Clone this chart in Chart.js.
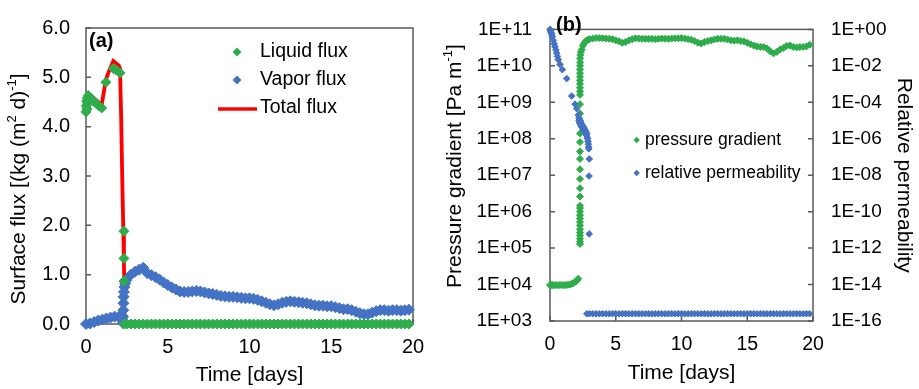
<!DOCTYPE html>
<html>
<head>
<meta charset="utf-8">
<script src="https://cdn.jsdelivr.net/npm/chart.js@4.4.0/dist/chart.umd.min.js"></script>
<style>
  html, body { margin: 0; padding: 0; background: #fff; }
  #wrap { position: relative; width: 919px; height: 389px; }
  .panel { position: absolute; top: 0; height: 389px; }
  #panelA { left: 0; width: 440px; }
  #panelB { left: 440px; width: 479px; }
</style>
</head>
<body>
<div id="wrap">
  <div class="panel" id="panelA"><canvas id="fluxChart"></canvas></div>
  <div class="panel" id="panelB"><canvas id="gradChart"></canvas></div>
</div>
<script>
// ---------- panel (a): surface flux ----------
const dayTicks = [0, 5, 10, 15, 20];
const fluxTicks = [0, 1, 2, 3, 4, 5, 6];

// common output times after breakthrough (days)
const bandDaysA = [
  2.5, 2.75, 3, 3.25, 3.5, 3.75, 4, 4.25, 4.5, 4.75,
  5, 5.25, 5.5, 5.75, 6, 6.25, 6.5, 6.75, 7, 7.25,
  7.5, 7.75, 8, 8.25, 8.5, 8.75, 9, 9.25, 9.5, 9.75,
  10, 10.25, 10.5, 10.75, 11, 11.25, 11.5, 11.75, 12, 12.25,
  12.5, 12.75, 13, 13.25, 13.5, 13.75, 14, 14.25, 14.5, 14.75,
  15, 15.25, 15.5, 15.75, 16, 16.25, 16.5, 16.75, 17, 17.25,
  17.5, 17.75, 18, 18.25, 18.5, 18.75, 19, 19.25, 19.5, 19.75
];

const liquidEarlyDays = [0, 0.02, 0.04, 0.06, 0.08, 0.1, 0.14, 0.2, 0.3, 0.43,
  0.55, 0.65, 0.8, 0.96, 1.22, 1.67, 1.85, 2.08, 2.32, 2.32, 2.32, 2.35];
const liquidEarly = [4.30, 4.42, 4.52, 4.36, 4.58, 4.48, 4.63, 4.58, 4.55, 4.52,
  4.50, 4.46, 4.42, 4.38, 4.90, 5.18, 5.15, 5.09, 1.88, 1.33, 0.87, 0];
const liquidLate = [
  0, 0, 0, 0, 0, 0, 0, 0, 0, 0,
  0, 0, 0, 0, 0, 0, 0, 0, 0, 0,
  0, 0, 0, 0, 0, 0, 0, 0, 0, 0,
  0, 0, 0, 0, 0, 0, 0, 0, 0, 0,
  0, 0, 0, 0, 0, 0, 0, 0, 0, 0,
  0, 0, 0, 0, 0, 0, 0, 0, 0, 0,
  0, 0, 0, 0, 0, 0, 0, 0, 0, 0
];

const vaporEarlyDays = [0, 0.25, 0.5, 0.75, 1, 1.25, 1.5, 1.75, 2, 2.2,
  2.26, 2.27, 2.28, 2.29, 2.3, 2.32, 2.35, 2.4, 2.45];
const vaporEarly = [0.00, 0.01, 0.04, 0.07, 0.09, 0.11, 0.13, 0.15, 0.14, 0.12,
  0.02, 0.15, 0.28, 0.42, 0.55, 0.65, 0.75, 0.82, 0.88];
const vaporLate = [
  0.92, 1.00, 1.06, 1.10, 1.14, 1.03, 0.99, 0.95, 0.90, 0.84,
  0.79, 0.74, 0.70, 0.66, 0.65, 0.65, 0.66, 0.67, 0.66, 0.64,
  0.62, 0.61, 0.59, 0.57, 0.56, 0.55, 0.55, 0.54, 0.53, 0.52,
  0.52, 0.51, 0.49, 0.46, 0.43, 0.40, 0.38, 0.40, 0.43, 0.45,
  0.46, 0.45, 0.44, 0.43, 0.42, 0.40, 0.38, 0.37, 0.37, 0.36,
  0.36, 0.34, 0.32, 0.30, 0.30, 0.28, 0.25, 0.22, 0.20, 0.20,
  0.23, 0.26, 0.28, 0.28, 0.27, 0.28, 0.28, 0.27, 0.28, 0.29
];

const totalDays = [0, 0.14, 0.4, 0.65, 0.96, 1.22, 1.45, 1.67, 1.85, 2.0,
  2.08, 2.15, 2.22, 2.28, 2.32, 2.35, 2.5, 3, 3.4, 3.7,
  4, 5, 6, 7, 8, 9, 10, 11, 11.5, 12.5,
  13.5, 14.5, 15.5, 16.5, 17.1, 18, 19, 20];
const totalFlux = [4.35, 4.66, 4.60, 4.53, 4.44, 4.96, 5.16, 5.33, 5.28, 5.24,
  5.18, 4.2, 2.9, 1.95, 1.2, 0.75, 0.92, 1.06, 1.15, 1.03,
  0.99, 0.79, 0.65, 0.66, 0.59, 0.55, 0.52, 0.43, 0.38, 0.46,
  0.42, 0.37, 0.32, 0.25, 0.20, 0.28, 0.28, 0.28];

// ---------- panel (b): pressure gradient / relative permeability ----------
const gradTicks = [1e3, 1e4, 1e5, 1e6, 1e7, 1e8, 1e9, 1e10, 1e11];
const permTicks = [1e-16, 1e-14, 1e-12, 1e-10, 1e-8, 1e-6, 1e-4, 1e-2, 1];

const bandDaysB = [
  3, 3.25, 3.5, 3.75, 4, 4.25, 4.5, 4.75, 5, 5.25,
  5.5, 5.75, 6, 6.25, 6.5, 6.75, 7, 7.25, 7.5, 7.75,
  8, 8.25, 8.5, 8.75, 9, 9.25, 9.5, 9.75, 10, 10.25,
  10.5, 10.75, 11, 11.25, 11.5, 11.75, 12, 12.25, 12.5, 12.75,
  13, 13.25, 13.5, 13.75, 14, 14.25, 14.5, 14.75, 15, 15.25,
  15.5, 15.75, 16, 16.25, 16.5, 16.75, 17, 17.25, 17.5, 17.75,
  18, 18.25, 18.5, 18.75, 19, 19.25, 19.5, 19.75
];

const gradEarlyDays = [0, 0.1, 0.2, 0.3, 0.45, 0.6, 0.75, 0.9, 1.05, 1.2,
  1.35, 1.5, 1.65, 1.8, 1.95, 2.05, 2.15];
const gradEarly = [9.7e3, 9.7e3, 9.7e3, 9.6e3, 9.7e3, 9.6e3, 9.7e3, 9.7e3, 9.6e3, 9.7e3,
  9.8e3, 1.0e4, 1.05e4, 1.1e4, 1.2e4, 1.3e4, 1.45e4];
const gradColumnDays = [
  2.28, 2.28, 2.28, 2.28, 2.28, 2.28, 2.28, 2.28, 2.28, 2.28,
  2.28, 2.28, 2.28, 2.28, 2.28, 2.28, 2.28, 2.28, 2.28, 2.28,
  2.28, 2.28, 2.28, 2.28, 2.28, 2.28, 2.28, 2.28, 2.28, 2.28,
  2.28, 2.28, 2.29, 2.29, 2.3, 2.31,
  2.35, 2.41, 2.5, 2.6, 2.75, 2.9
];
const gradColumn = [
  1.3e5, 1.5e5, 1.8e5, 2.2e5, 2.7e5, 3.3e5, 4.2e5, 5.2e5, 6.5e5, 8.0e5,
  1.0e6, 1.25e6, 1.45e6, 2.6e6, 4.4e6, 7.9e6, 1.45e7, 2.8e7, 4.5e7, 8.1e7,
  1.4e8, 2.7e8, 4.9e8, 8.9e8, 1.6e9, 2.0e9, 2.5e9, 3.2e9, 4.0e9, 5.0e9,
  6.3e9, 8.0e9, 1.0e10, 1.25e10, 1.6e10, 2.0e10,
  2.4e10, 2.8e10, 3.6e10, 4.2e10, 4.9e10, 5.2e10
];
const gradLate = [
  5.4e10, 5.6e10, 5.8e10, 5.8e10, 5.7e10, 5.6e10, 5.5e10, 5.4e10, 5.0e10, 4.7e10,
  4.3e10, 4.5e10, 5.0e10, 5.4e10, 5.7e10, 5.6e10, 5.5e10, 5.5e10, 5.5e10, 5.5e10,
  5.4e10, 5.5e10, 5.6e10, 5.5e10, 5.5e10, 5.6e10, 5.7e10, 5.7e10, 5.8e10, 5.6e10,
  5.4e10, 5.2e10, 4.8e10, 4.3e10, 4.1e10, 4.5e10, 4.8e10, 5.0e10, 5.3e10, 5.5e10,
  5.5e10, 5.5e10, 5.3e10, 5.0e10, 4.9e10, 5.0e10, 4.8e10, 4.7e10, 4.3e10, 3.9e10,
  3.6e10, 3.4e10, 3.3e10, 3.3e10, 3.0e10, 2.5e10, 2.2e10, 2.4e10, 2.8e10, 3.1e10,
  3.5e10, 3.6e10, 3.3e10, 3.2e10, 3.3e10, 3.3e10, 3.4e10, 3.8e10
];

const permEarlyDays = [0, 0.04, 0.08, 0.13, 0.18, 0.25, 0.32, 0.38, 0.45, 0.51,
  0.57, 0.63, 0.76, 0.94, 1.27, 1.65, 1.9, 2.03, 2.15, 2.2];
const permEarly = [1.0, 0.82, 0.65, 0.55, 0.4, 0.25, 0.16, 0.11, 0.075, 0.05,
  0.033, 0.022, 0.012, 6.2e-3, 2.0e-3, 2.2e-4, 7.9e-5, 4.5e-5, 2.0e-5, 1.4e-5];
const permClusterDays = [
  2.22, 2.24, 2.26, 2.28, 2.3, 2.32, 2.35, 2.37, 2.4, 2.42,
  2.45, 2.48, 2.5, 2.53, 2.56, 2.6, 2.63, 2.66, 2.7, 2.73,
  2.76, 2.8, 2.83, 2.86, 2.9, 2.92, 2.94, 2.95,
  2.99, 2.97, 2.98, 2.8
];
const permCluster = [
  1.0e-5, 1.2e-5, 8e-6, 1.0e-5, 7e-6, 9e-6, 5.5e-6, 7e-6, 4.5e-6, 6e-6,
  4e-6, 5e-6, 3.5e-6, 4.5e-6, 3e-6, 3.8e-6, 2.5e-6, 3e-6, 2e-6, 2.5e-6,
  1.6e-6, 1.9e-6, 1.2e-6, 1.0e-6, 7e-7, 5e-7, 3.5e-7, 2.8e-7,
  7.8e-8, 9e-9, 6e-12, 2.5e-16
];
const permLate = [
  2.5e-16, 2.5e-16, 2.5e-16, 2.5e-16, 2.5e-16, 2.5e-16, 2.5e-16, 2.5e-16, 2.5e-16, 2.5e-16,
  2.5e-16, 2.5e-16, 2.5e-16, 2.5e-16, 2.5e-16, 2.5e-16, 2.5e-16, 2.5e-16, 2.5e-16, 2.5e-16,
  2.5e-16, 2.5e-16, 2.5e-16, 2.5e-16, 2.5e-16, 2.5e-16, 2.5e-16, 2.5e-16, 2.5e-16, 2.5e-16,
  2.5e-16, 2.5e-16, 2.5e-16, 2.5e-16, 2.5e-16, 2.5e-16, 2.5e-16, 2.5e-16, 2.5e-16, 2.5e-16,
  2.5e-16, 2.5e-16, 2.5e-16, 2.5e-16, 2.5e-16, 2.5e-16, 2.5e-16, 2.5e-16, 2.5e-16, 2.5e-16,
  2.5e-16, 2.5e-16, 2.5e-16, 2.5e-16, 2.5e-16, 2.5e-16, 2.5e-16, 2.5e-16, 2.5e-16, 2.5e-16,
  2.5e-16, 2.5e-16, 2.5e-16, 2.5e-16, 2.5e-16, 2.5e-16, 2.5e-16, 2.5e-16
];

// ---------- styling ----------
const FONT = "'Liberation Sans', Arial, sans-serif";
const GREEN = '#2EAD4B';
const BLUE = '#4472C4';
const RED = '#FF0000';
const AXIS = '#595959';

function pairs(xs, ys) {
  return xs.map((x, i) => ({ x: x, y: ys[i] }));
}

function sciLabel(v) {
  const e = Math.round(Math.log10(v));
  return '1E' + (e < 0 ? '-' : '+') + String(Math.abs(e)).padStart(2, '0');
}

function diamond(ctx, x, y, r, color) {
  ctx.beginPath();
  ctx.moveTo(x, y - r);
  ctx.lineTo(x + r, y);
  ctx.lineTo(x, y + r);
  ctx.lineTo(x - r, y);
  ctx.closePath();
  ctx.fillStyle = color;
  ctx.fill();
}

function label(ctx, text, x, y, size, bold) {
  ctx.font = (bold ? 'bold ' : '') + size + 'px ' + FONT;
  ctx.fillStyle = '#000';
  ctx.textAlign = 'left';
  ctx.textBaseline = 'middle';
  ctx.fillText(text, x, y);
}

// rotated title with superscript parts, centred on (cx, cy)
function richTitle(ctx, parts, cx, cy, size) {
  ctx.save();
  ctx.translate(cx, cy);
  ctx.rotate(-Math.PI / 2);
  ctx.textBaseline = 'middle';
  ctx.textAlign = 'left';
  ctx.fillStyle = '#000';
  const sup = size * 0.62;
  let total = 0;
  parts.forEach(p => {
    ctx.font = (p.sup ? sup : size) + 'px ' + FONT;
    p.w = ctx.measureText(p.text).width;
    total += p.w;
  });
  let x = -total / 2;
  parts.forEach(p => {
    ctx.font = (p.sup ? sup : size) + 'px ' + FONT;
    ctx.fillText(p.text, x, p.sup ? -size * 0.32 : 0);
    x += p.w;
  });
  ctx.restore();
}

// plot frame plus inward tick marks
const framePlugin = {
  id: 'frame',
  beforeDatasetsDraw(chart, args, opts) {
    const { ctx, chartArea: a, scales } = chart;
    ctx.save();
    ctx.strokeStyle = AXIS;
    ctx.lineWidth = 1.5;
    ctx.strokeRect(a.left, a.top, a.right - a.left, a.bottom - a.top);
    ctx.beginPath();
    opts.xTicks.forEach(v => {
      const px = scales.x.getPixelForValue(v);
      ctx.moveTo(px, a.bottom);
      ctx.lineTo(px, a.bottom - 5);
    });
    opts.leftTicks.forEach(v => {
      const py = scales.y.getPixelForValue(v);
      ctx.moveTo(a.left, py);
      ctx.lineTo(a.left + 5, py);
    });
    if (opts.rightTicks) {
      opts.rightTicks.forEach(v => {
        const py = scales.yR.getPixelForValue(v);
        ctx.moveTo(a.right, py);
        ctx.lineTo(a.right - 5, py);
      });
    }
    ctx.stroke();
    ctx.restore();
  }
};

const notesA = {
  id: 'notesA',
  afterDraw(chart) {
    const ctx = chart.ctx;
    ctx.save();
    label(ctx, '(a)', 89, 41, 20, true);
    diamond(ctx, 237, 52, 4.5, GREEN);
    label(ctx, 'Liquid flux', 260, 52, 19.5);
    diamond(ctx, 237, 80, 4.5, BLUE);
    label(ctx, 'Vapor flux', 260, 80, 19.5);
    ctx.strokeStyle = RED;
    ctx.lineWidth = 3.5;
    ctx.beginPath();
    ctx.moveTo(218, 109);
    ctx.lineTo(257, 109);
    ctx.stroke();
    label(ctx, 'Total flux', 260, 108, 19.5);
    richTitle(ctx, [
      { text: 'Surface flux [(kg (m' }, { text: '2', sup: true },
      { text: ' d)' }, { text: '-1', sup: true }, { text: ']' }
    ], 19, 189, 21);
    ctx.restore();
  }
};

const notesB = {
  id: 'notesB',
  afterDraw(chart) {
    const ctx = chart.ctx;
    ctx.save();
    label(ctx, '(b)', 116, 25, 20, true);
    diamond(ctx, 196.7, 140, 3.2, GREEN);
    label(ctx, 'pressure gradient', 205, 140, 17.5);
    diamond(ctx, 196.7, 173, 3.2, BLUE);
    label(ctx, 'relative permeability', 205, 173, 17.5);
    richTitle(ctx, [
      { text: 'Pressure gradient [Pa m' }, { text: '-1', sup: true }, { text: ']' }
    ], 15, 166, 21);
    ctx.restore();
  }
};

// ---------- chart (a) ----------
new Chart(document.getElementById('fluxChart'), {
  type: 'scatter',
  data: {
    datasets: [
      {
        label: 'Liquid flux',
        data: pairs(liquidEarlyDays.concat(bandDaysA), liquidEarly.concat(liquidLate)),
        pointStyle: 'rectRot', pointRadius: 5, borderWidth: 1,
        backgroundColor: GREEN, borderColor: GREEN, clip: false
      },
      {
        label: 'Vapor flux',
        data: pairs(vaporEarlyDays.concat(bandDaysA), vaporEarly.concat(vaporLate)),
        pointStyle: 'rectRot', pointRadius: 5.5, borderWidth: 1,
        backgroundColor: BLUE, borderColor: BLUE, clip: false
      },
      {
        label: 'Total flux',
        data: pairs(totalDays, totalFlux),
        showLine: true, pointRadius: 0, borderWidth: 3.8,
        borderColor: RED, backgroundColor: RED, clip: false
      }
    ]
  },
  options: {
    responsive: true,
    maintainAspectRatio: false,
    animation: false,
    layout: { padding: { top: 27, right: 27, bottom: 0, left: 0 } },
    plugins: {
      legend: { display: false },
      tooltip: { enabled: false },
      frame: { xTicks: dayTicks, leftTicks: fluxTicks }
    },
    scales: {
      x: {
        type: 'linear', min: 0, max: 20,
        grid: { display: false, drawTicks: false },
        border: { display: false },
        afterBuildTicks: s => { s.ticks = dayTicks.map(v => ({ value: v })); },
        ticks: { font: { size: 20, family: FONT }, color: '#000', padding: 11, autoSkip: false, maxRotation: 0 },
        title: { display: true, text: 'Time [days]', color: '#000',
                 font: { size: 21, family: FONT }, padding: { top: 0, bottom: 1 } },
        afterFit: s => { s.height = 65; }
      },
      y: {
        type: 'linear', min: 0, max: 6,
        grid: { display: false, drawTicks: false },
        border: { display: false },
        afterBuildTicks: s => { s.ticks = fluxTicks.map(v => ({ value: v })); },
        ticks: { font: { size: 20, family: FONT }, color: '#000', padding: 16, autoSkip: false,
                 callback: v => v.toFixed(1) },
        afterFit: s => { s.width = 86; }
      }
    }
  },
  plugins: [framePlugin, notesA]
});

// ---------- chart (b) ----------
new Chart(document.getElementById('gradChart'), {
  type: 'scatter',
  data: {
    datasets: [
      {
        label: 'relative permeability',
        yAxisID: 'yR',
        data: pairs(permEarlyDays.concat(permClusterDays, bandDaysB),
                    permEarly.concat(permCluster, permLate)),
        pointStyle: 'rectRot', pointRadius: 3.3, borderWidth: 1,
        backgroundColor: BLUE, borderColor: BLUE, clip: false
      },
      {
        label: 'pressure gradient',
        yAxisID: 'y',
        data: pairs(gradEarlyDays.concat(gradColumnDays, bandDaysB),
                    gradEarly.concat(gradColumn, gradLate)),
        pointStyle: 'rectRot', pointRadius: 3.5, borderWidth: 1,
        backgroundColor: GREEN, borderColor: GREEN, clip: false
      }
    ]
  },
  options: {
    responsive: true,
    maintainAspectRatio: false,
    animation: false,
    layout: { padding: { top: 15, right: 0, bottom: 0, left: 0 } },
    plugins: {
      legend: { display: false },
      tooltip: { enabled: false },
      frame: { xTicks: dayTicks, leftTicks: gradTicks, rightTicks: permTicks }
    },
    scales: {
      x: {
        type: 'linear', min: 0, max: 20,
        grid: { display: false, drawTicks: false },
        border: { display: false },
        afterBuildTicks: s => { s.ticks = dayTicks.map(v => ({ value: v })); },
        ticks: { font: { size: 19.5, family: FONT }, color: '#000', padding: 12, autoSkip: false, maxRotation: 0 },
        title: { display: true, text: 'Time [days]', color: '#000',
                 font: { size: 21, family: FONT }, padding: { top: 0, bottom: 3 } },
        afterFit: s => { s.height = 68; }
      },
      y: {
        type: 'logarithmic', position: 'left', min: 1e3, max: 1e11,
        grid: { display: false, drawTicks: false },
        border: { display: false },
        afterBuildTicks: s => { s.ticks = gradTicks.map(v => ({ value: v })); },
        ticks: { font: { size: 19, family: FONT }, color: '#000', padding: 18, autoSkip: false,
                 callback: v => sciLabel(v) },
        afterFit: s => { s.width = 110; }
      },
      yR: {
        type: 'logarithmic', position: 'right', min: 1e-16, max: 1,
        grid: { display: false, drawTicks: false },
        border: { display: false },
        afterBuildTicks: s => { s.ticks = permTicks.map(v => ({ value: v })); },
        ticks: { font: { size: 19, family: FONT }, color: '#000', padding: 18, autoSkip: false,
                 callback: v => sciLabel(v) },
        title: { display: true, text: 'Relative permeability', color: '#000',
                 font: { size: 21, family: FONT }, padding: { top: 3, bottom: 0 } },
        afterFit: s => { s.width = 106; }
      }
    }
  },
  plugins: [framePlugin, notesB]
});
</script>
</body>
</html>
